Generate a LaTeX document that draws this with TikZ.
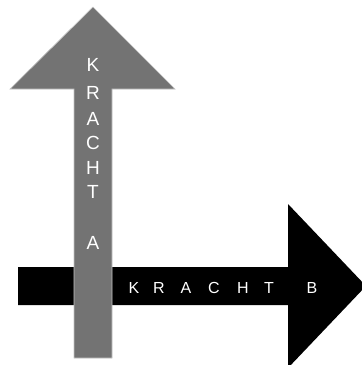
\documentclass[tikz,border=0pt]{standalone}
\usepackage{fontspec}
\setmainfont{Liberation Sans}
\definecolor{arrowgray}{HTML}{737373}
\definecolor{edgegray}{HTML}{C4C4C4}
\begin{document}
\begin{tikzpicture}[x=1pt,y=-1pt,
  vletter/.style={text=white,font=\fontsize{19}{19}\selectfont,inner sep=0pt,anchor=center},
  hletter/.style={text=white,font=\fontsize{16}{16}\selectfont,inner sep=0pt,anchor=center}]
\useasboundingbox (0,0) rectangle (362,365);
% black arrow (force B)
\fill[black] (18,267) -- (288,267) -- (288,204) -- (366,286) -- (288,368) -- (288,305) -- (18,305) -- cycle;
% gray arrow (force A)
\filldraw[fill=arrowgray,draw=edgegray,line width=0.7pt]
  (74,358) -- (74,89) -- (10,89) -- (93,7) -- (175,89) -- (112,89) -- (112,358) -- cycle;
% vertical text
\foreach \l/\y [count=\i] in {K/65,R/93,A/119,C/143,H/168,T/192,A/243}
  \node[vletter] (va\i) at (93,\y) {\l};
% horizontal text
\foreach \l/\x [count=\i] in {K/134,R/159,A/186,C/214,H/243,T/269,B/312}
  \node[hletter] (hb\i) at (\x,288) {\l};
\end{tikzpicture}
\end{document}
